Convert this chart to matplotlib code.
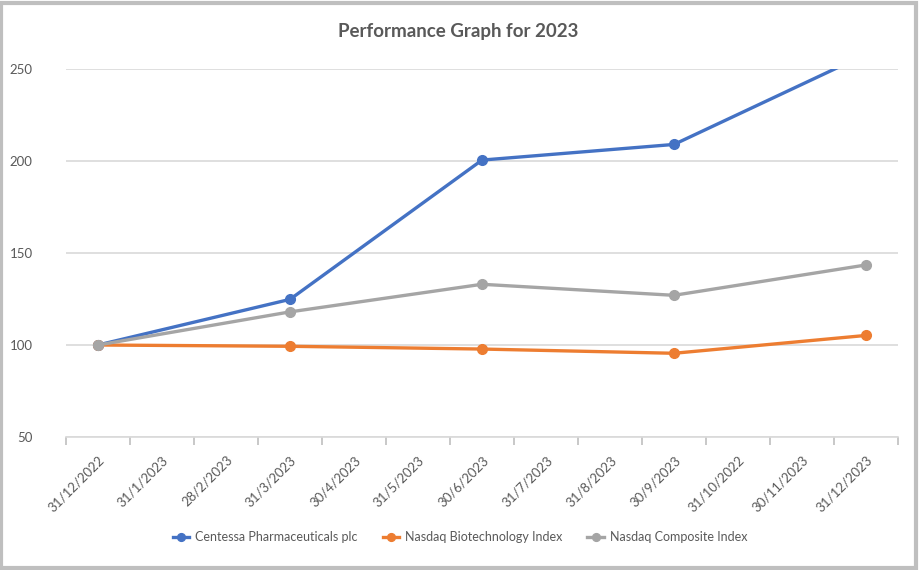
import matplotlib
matplotlib.use("Agg")
import matplotlib.pyplot as plt
from matplotlib.patches import Rectangle

plt.rcParams['font.family'] = ['Lato', 'DejaVu Sans']

# category axis: month ends
months = ["31/12/2022", "31/1/2023", "28/2/2023", "31/3/2023", "30/4/2023",
          "31/5/2023", "30/6/2023", "31/7/2023", "31/8/2023", "30/9/2023",
          "31/10/2022", "30/11/2023", "31/12/2023"]

# values only at quarter ends
quarter_idx = [0, 3, 6, 9, 12]
centessa = [100, 124.8, 200.5, 209, 258]
biotech = [100, 99.3, 97.8, 95.5, 105.2]
composite = [100, 118, 133, 127, 143.5]

series = [
    ("Centessa Pharmaceuticals plc", centessa, "#4472C4"),
    ("Nasdaq Biotechnology Index", biotech, "#ED7D31"),
    ("Nasdaq Composite Index", composite, "#A5A5A5"),
]

txt = "#595959"

fig = plt.figure(figsize=(9.2, 5.7), dpi=100)
ax = fig.add_axes([66/920, 1-437/570, (898-66)/920, (437-69)/570])

for name, vals, col in series:
    ax.plot(quarter_idx, vals, color=col, lw=2.4, marker="o", ms=7,
            label=name, solid_joinstyle="round", zorder=3)

ax.set_xlim(-0.5, 12.5)
ax.set_ylim(50, 250)
ax.set_yticks([50, 100, 150, 200, 250])
ax.grid(axis="y", color="#D9D9D9", lw=1.2, zorder=0)

ax.set_xticks(range(len(months)))
ax.set_xticklabels(months, rotation=45, ha="right", rotation_mode="anchor",
                   fontsize=9.5, color=txt)
ax.set_xticks([i - 0.5 for i in range(len(months) + 1)], minor=True)
ax.tick_params(axis="x", which="major", length=0, pad=12)
ax.tick_params(axis="x", which="minor", length=6, color="#BFBFBF", width=1.2)
ax.tick_params(axis="y", length=0, pad=24, labelsize=9.5, labelcolor=txt)

for s in ["top", "right", "left"]:
    ax.spines[s].set_visible(False)
ax.spines["bottom"].set_color("#D9D9D9")
ax.spines["bottom"].set_linewidth(1.2)

fig.text(0.498, 1-31/570, "Performance Graph for 2023", ha="center", va="center",
         fontsize=13.5, fontweight="bold", color=txt)

fig.legend(loc="center", bbox_to_anchor=(0.5, 1-537/570), ncol=3, frameon=False,
           fontsize=9, handlelength=1.3, handletextpad=0.5, columnspacing=2.0,
           labelcolor=txt, markerscale=0.8)

fig.patches.append(Rectangle((1.5/920, 2.5/570), 915/920, 565/570,
                             transform=fig.transFigure, fill=False,
                             edgecolor="#BFBFBF", lw=3))

fig.savefig("out.png", dpi=100)
